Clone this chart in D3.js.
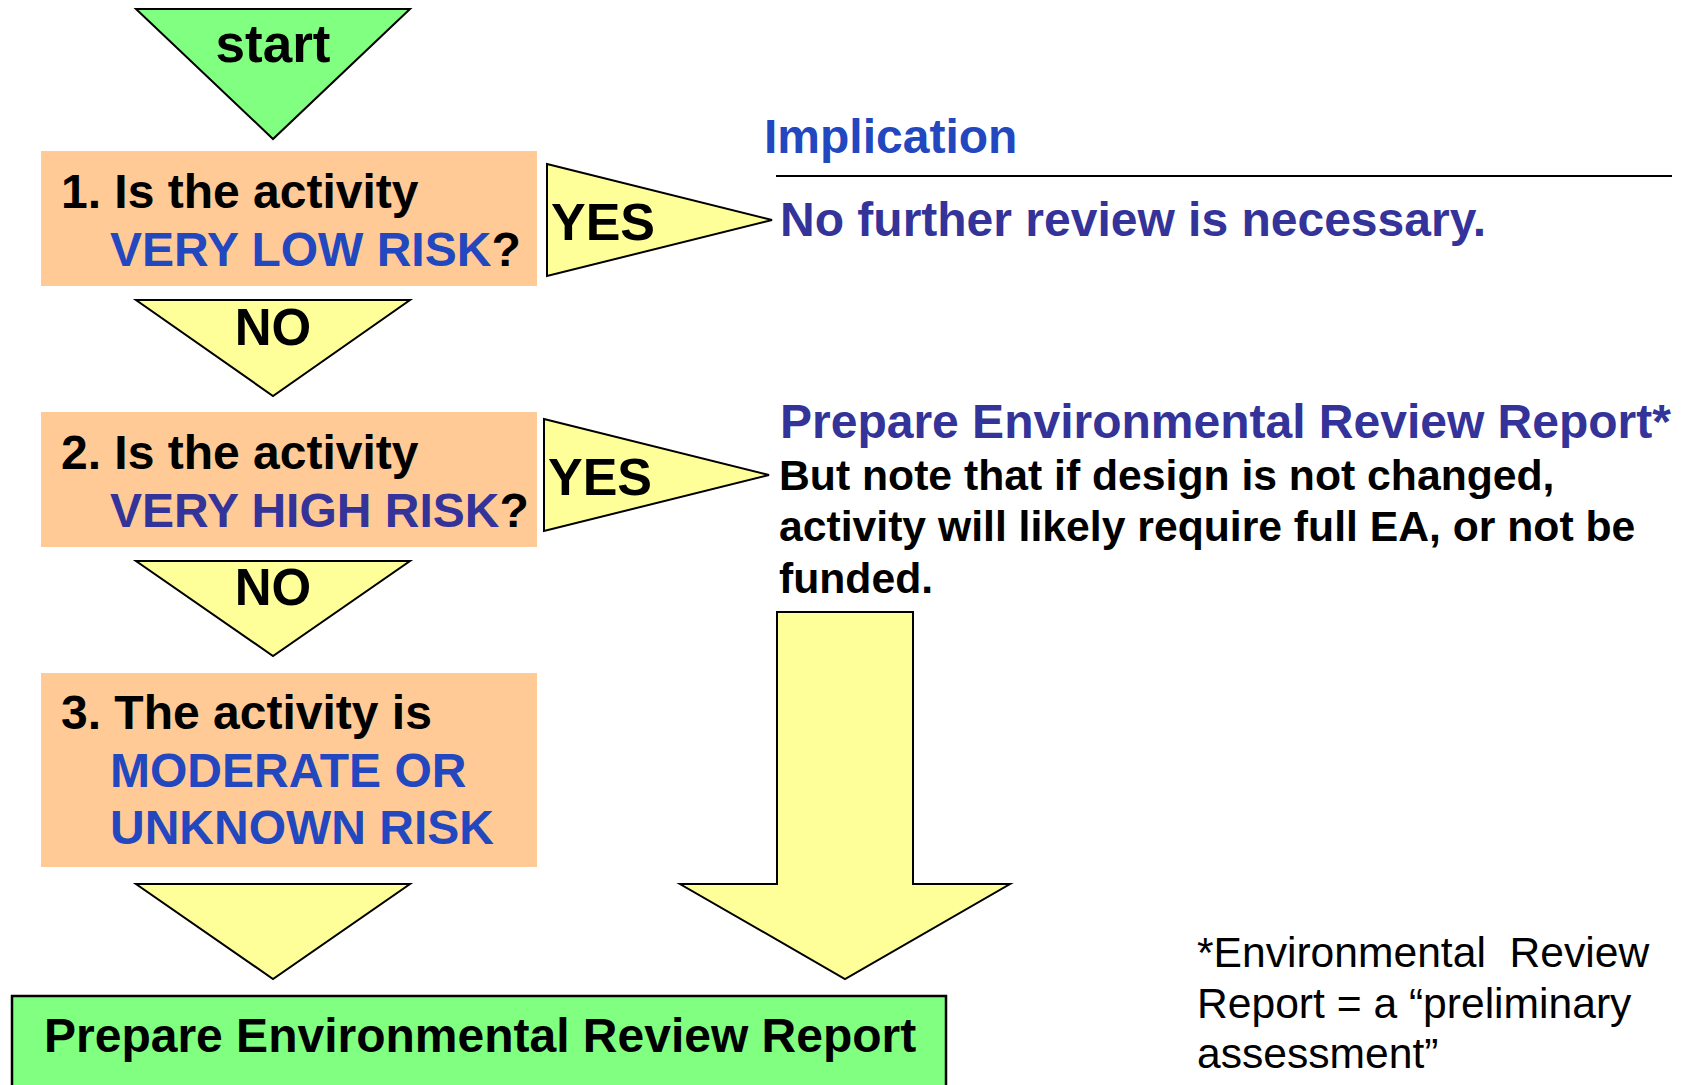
<!DOCTYPE html>
<html>
<head>
<meta charset="utf-8">
<script src="https://cdn.jsdelivr.net/npm/d3@7"></script>
<style>
  html, body { margin: 0; padding: 0; background: #ffffff; }
  svg { display: block; }
</style>
</head>
<body>
<script>
'use strict';

// ---- content of the flow chart ----
// question boxes, each line split into plain / highlighted pieces
const questions = [
  [[["1. Is the activity", "ink"]], [["VERY LOW RISK", "blue"], ["?", "ink"]]],
  [[["2. Is the activity", "ink"]], [["VERY HIGH RISK", "navy"], ["?", "ink"]]],
  [[["3. The activity is", "ink"]], [["MODERATE OR", "blue"]], [["UNKNOWN RISK", "blue"]]]
];
const downLabels = ["start", "NO", "NO", ""];
const yesLabels = ["YES", "YES"];
const implicationTitle = "Implication";
const implications = [
  { head: "No further review is necessary.", note: [] },
  { head: "Prepare Environmental Review Report*",
    note: ["But note that if design is not changed,",
           "activity will likely require full EA, or not be",
           "funded."] }
];
const finalStep = "Prepare Environmental Review Report";
const footnote = ["*Environmental  Review", "Report = a \u201cpreliminary", "assessment\u201d"];

// ---- layout ----
const width = 1681, height = 1085;
const font = "'Liberation Sans', Arial, Helvetica, sans-serif";
const colors = {
  ink: "#000000", blue: "#2247bf", navy: "#333399",
  green: "#80ff80", yellow: "#ffff99", peach: "#ffca96"
};

// page is laid out in the slide's own pixel units
const x = d3.scaleLinear().domain([0, 1681]).range([0, width]);
const y = d3.scaleLinear().domain([0, 1085]).range([0, height]);

const svg = d3.select("body").append("svg")
  .attr("width", width)
  .attr("height", height);

svg.append("rect").attr("width", width).attr("height", height).attr("fill", "#fff");

const line = d3.line().x(d => x(d[0])).y(d => y(d[1]));

// downward triangles in the left column: [top, bottom, label baseline, label size]
const downSlots = [[9, 139, 62, 53], [300, 396, 345, 51], [561, 656, 605, 51], [884, 979, 0, 51]];
const colX = 273, triHalf = 137;

const downTri = svg.selectAll(".down")
  .data(downLabels)
  .enter()
  .append("g")
  .attr("class", "down");

downTri.append("path")
  .attr("d", (d, i) => {
    const s = downSlots[i];
    return line([[colX - triHalf, s[0]], [colX + triHalf, s[0]], [colX, s[1]]]) + "Z";
  })
  .attr("fill", (d, i) => i === 0 ? colors.green : colors.yellow)
  .attr("stroke", "#000")
  .attr("stroke-width", 2)
  .attr("stroke-linejoin", "miter");

downTri.append("text")
  .attr("x", x(colX))
  .attr("y", (d, i) => y(downSlots[i][2]))
  .attr("text-anchor", "middle")
  .style("font-family", font)
  .style("font-weight", "bold")
  .style("font-size", (d, i) => downSlots[i][3] + "px")
  .attr("fill", colors.ink)
  .text(d => d);

// question boxes: [top, bottom, first baseline]
const boxSlots = [[151, 286, 208], [412, 547, 469], [673, 867, 729]];
const boxLeft = 41, boxRight = 537, lineGap = 57.5;

const boxes = svg.selectAll(".question")
  .data(questions)
  .enter()
  .append("g")
  .attr("class", "question");

boxes.append("rect")
  .attr("x", x(boxLeft))
  .attr("y", (d, i) => y(boxSlots[i][0]))
  .attr("width", x(boxRight) - x(boxLeft))
  .attr("height", (d, i) => y(boxSlots[i][1]) - y(boxSlots[i][0]))
  .attr("fill", colors.peach);

boxes.each(function(lines, i) {
  const g = d3.select(this);
  lines.forEach((parts, j) => {
    const t = g.append("text")
      .attr("x", x(j === 0 ? 61 : 110))
      .attr("y", y(boxSlots[i][2] + j * lineGap))
      .style("font-family", font)
      .style("font-weight", "bold")
      .style("font-size", "48px");
    parts.forEach(p => {
      t.append("tspan").attr("fill", colors[p[1]]).text(p[0]);
    });
  });
});

// sideways YES arrows: [left, top, bottom, tip x, tip y, label baseline]
const yesSlots = [[547, 164, 276, 772, 220, 240], [544, 419, 531, 769, 475, 495]];

const yes = svg.selectAll(".yes")
  .data(yesLabels)
  .enter()
  .append("g")
  .attr("class", "yes");

yes.append("path")
  .attr("d", (d, i) => {
    const s = yesSlots[i];
    return line([[s[0], s[1]], [s[3], s[4]], [s[0], s[2]]]) + "Z";
  })
  .attr("fill", colors.yellow)
  .attr("stroke", "#000")
  .attr("stroke-width", 2);

yes.append("text")
  .attr("x", (d, i) => x(yesSlots[i][0] + 4))
  .attr("y", (d, i) => y(yesSlots[i][5]))
  .style("font-family", font)
  .style("font-weight", "bold")
  .style("font-size", "52px")
  .attr("fill", colors.ink)
  .text(d => d);

// implication column
const rightX = 780;
svg.append("text")
  .attr("x", x(764))
  .attr("y", y(153))
  .style("font-family", font)
  .style("font-weight", "bold")
  .style("font-size", "48px")
  .attr("fill", colors.blue)
  .text(implicationTitle);

svg.append("line")
  .attr("x1", x(776)).attr("x2", x(1672))
  .attr("y1", y(176)).attr("y2", y(176))
  .attr("stroke", "#000")
  .attr("stroke-width", 2);

const implBase = [236, 438];
implications.forEach((imp, i) => {
  svg.append("text")
    .attr("x", x(rightX))
    .attr("y", y(implBase[i]))
    .style("font-family", font)
    .style("font-weight", "bold")
    .style("font-size", "48px")
    .attr("fill", colors.navy)
    .text(imp.head);
  imp.note.forEach((n, j) => {
    svg.append("text")
      .attr("x", x(rightX - 1))
      .attr("y", y(implBase[i] + 51.5 * (j + 1)))
      .style("font-family", font)
      .style("font-weight", "bold")
      .style("font-size", "42.7px")
      .attr("fill", colors.ink)
      .text(n);
  });
});

// big block arrow down to the final step
svg.append("path")
  .attr("d", line([
    [777, 612], [913, 612], [913, 884], [1010, 884],
    [845, 979], [680, 884], [777, 884]
  ]) + "Z")
  .attr("fill", colors.yellow)
  .attr("stroke", "#000")
  .attr("stroke-width", 2);

// final green box, runs off the bottom of the page
svg.append("rect")
  .attr("x", x(12))
  .attr("y", y(996))
  .attr("width", x(946) - x(12))
  .attr("height", y(1100) - y(996))
  .attr("fill", colors.green)
  .attr("stroke", "#000")
  .attr("stroke-width", 2.5);

svg.append("text")
  .attr("x", x(44))
  .attr("y", y(1052))
  .style("font-family", font)
  .style("font-weight", "bold")
  .style("font-size", "48px")
  .attr("fill", colors.ink)
  .text(finalStep);

// footnote
svg.selectAll(".foot")
  .data(footnote)
  .enter()
  .append("text")
  .attr("class", "foot")
  .attr("x", x(1197))
  .attr("y", (d, i) => y(967 + i * 50.5))
  .style("font-family", font)
  .style("font-size", "42.6px")
  .style("white-space", "pre")
  .attr("xml:space", "preserve")
  .attr("fill", colors.ink)
  .text(d => d);
</script>
</body>
</html>
